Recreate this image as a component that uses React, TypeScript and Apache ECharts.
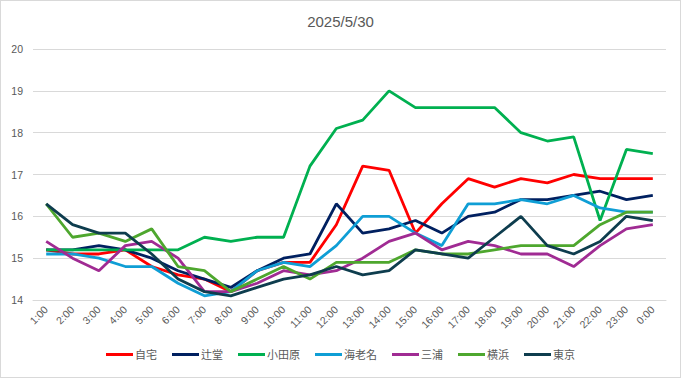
import React, { useEffect, useRef } from "react";
import * as echarts from "echarts";

const hours = ["1:00","2:00","3:00","4:00","5:00","6:00","7:00","8:00","9:00","10:00","11:00","12:00","13:00","14:00","15:00","16:00","17:00","18:00","19:00","20:00","21:00","22:00","23:00","0:00"];

const jitaku = [15.2,15.1,15.1,15.2,14.8,14.6,14.5,14.2,14.7,14.9,14.9,15.8,17.2,17.1,15.6,16.3,16.9,16.7,16.9,16.8,17.0,16.9,16.9,16.9];
const tsujido = [15.2,15.2,15.3,15.2,15.0,14.7,14.5,14.3,14.7,15.0,15.1,16.3,15.6,15.7,15.9,15.6,16.0,16.1,16.4,16.4,16.5,16.6,16.4,16.5];
const odawara = [15.2,15.2,15.2,15.2,15.2,15.2,15.5,15.4,15.5,15.5,17.2,18.1,18.3,19.0,18.6,18.6,18.6,18.6,18.0,17.8,17.9,15.9,17.6,17.5];
const ebina = [15.1,15.1,15.0,14.8,14.8,14.4,14.1,14.2,14.7,14.9,14.8,15.3,16.0,16.0,15.6,15.3,16.3,16.3,16.4,16.3,16.5,16.2,16.1,16.1];
const miura = [15.4,15.0,14.7,15.3,15.4,15.0,14.2,14.2,14.4,14.7,14.6,14.7,15.0,15.4,15.6,15.2,15.4,15.3,15.1,15.1,14.8,15.3,15.7,15.8];
const yokohama = [16.3,15.5,15.6,15.4,15.7,14.8,14.7,14.2,14.5,14.8,14.5,14.9,14.9,14.9,15.2,15.1,15.1,15.2,15.3,15.3,15.3,15.8,16.1,16.1];
const tokyo = [16.3,15.8,15.6,15.6,15.1,14.5,14.2,14.1,14.3,14.5,14.6,14.8,14.6,14.7,15.2,15.1,15.0,15.5,16.0,15.3,15.1,15.4,16.0,15.9];

const seriesNames = ["自宅","辻堂","小田原","海老名","三浦","横浜","東京"];
const seriesData = [jitaku, tsujido, odawara, ebina, miura, yokohama, tokyo];
const seriesColors = ["#FF0000","#002060","#00B050","#0F9ED5","#A02B93","#4EA72E","#0E3D4E"];

const yTicks = { min: 14, max: 20, interval: 1 };

export default function App() {
  const ref = useRef<HTMLDivElement>(null);
  useEffect(() => {
    document.body.style.margin = "0";
    if (!ref.current) return;
    const chart = echarts.init(ref.current, null, { renderer: "svg" });
    const font = "'Liberation Sans', 'Noto Sans CJK JP', sans-serif";
    chart.setOption({
      animation: false,
      backgroundColor: "#ffffff",
      textStyle: { fontFamily: font },
      title: {
        text: "2025/5/30",
        left: "center",
        top: 8,
        textStyle: { fontSize: 15, fontWeight: "normal", color: "#595959", fontFamily: font },
      },
      grid: { left: 32, right: 14, top: 48, bottom: 77, containLabel: false },
      legend: {
        bottom: 12,
        left: "center",
        icon: "rect",
        itemWidth: 27,
        itemHeight: 3,
        itemGap: 15,
        textStyle: { fontSize: 11, color: "#595959", fontFamily: font, padding: [0, 0, 0, -3] },
        data: seriesNames,
      },
      xAxis: {
        type: "category",
        data: hours,
        boundaryGap: true,
        axisLine: { show: true, lineStyle: { color: "#d9d9d9" } },
        axisTick: { show: false },
        axisLabel: { rotate: 45, fontSize: 10.5, color: "#595959", margin: 8, interval: 0 },
      },
      yAxis: {
        type: "value",
        min: yTicks.min,
        max: yTicks.max,
        interval: yTicks.interval,
        axisLine: { show: false },
        axisTick: { show: false },
        splitLine: { lineStyle: { color: "#d9d9d9" } },
        axisLabel: { fontSize: 10.5, color: "#595959", margin: 10 },
      },
      series: seriesNames.map((n, i) => ({
        name: n,
        type: "line",
        data: seriesData[i],
        symbol: "none",
        lineStyle: { width: 2.8, color: seriesColors[i] },
        itemStyle: { color: seriesColors[i] },
      })),
    });
    return () => chart.dispose();
  }, []);
  return (
    <div
      ref={ref}
      style={{ width: 679, height: 376, border: "1px solid #d9d9d9", position: "absolute", left: 0, top: 0 }}
    />
  );
}
